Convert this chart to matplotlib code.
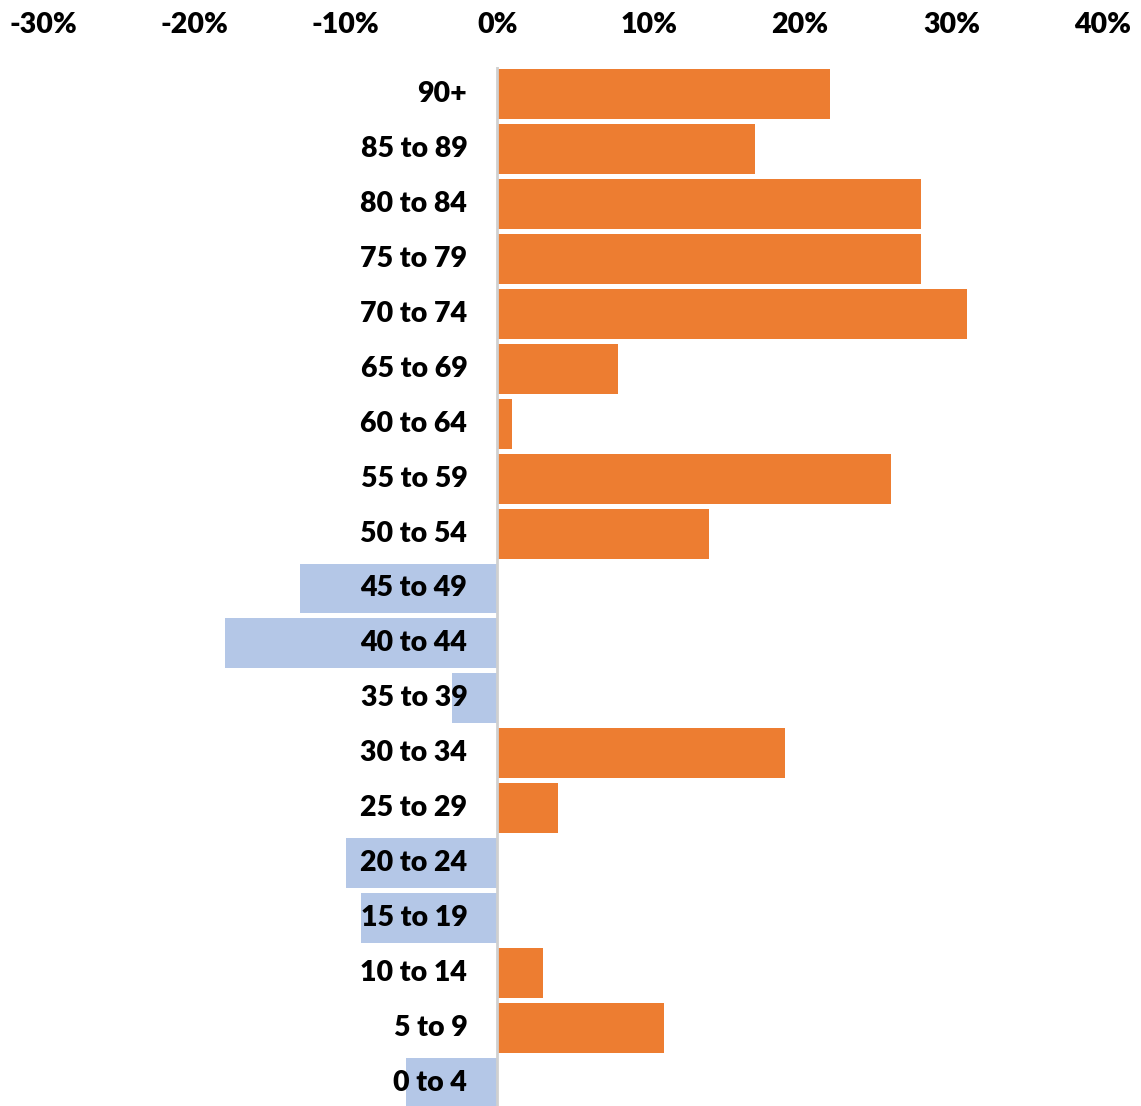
import matplotlib
matplotlib.use("Agg")
import matplotlib.pyplot as plt
import matplotlib.transforms as mtransforms

plt.rcParams['font.family'] = ['Lato', 'DejaVu Sans']

ages = ["90+", "85 to 89", "80 to 84", "75 to 79", "70 to 74", "65 to 69",
        "60 to 64", "55 to 59", "50 to 54", "45 to 49", "40 to 44", "35 to 39",
        "30 to 34", "25 to 29", "20 to 24", "15 to 19", "10 to 14", "5 to 9", "0 to 4"]
change = [22, 17, 28, 28, 31, 8, 1, 26, 14, -13, -18, -3, 19, 4, -10, -9, 3, 11, -6]
xticks = [-30, -20, -10, 0, 10, 20, 30, 40]

orange = "#ED7D31"
blue = "#B4C7E7"

W, H = 1141, 1106
fig = plt.figure(figsize=(W / 100, H / 100), dpi=100)
ax = fig.add_axes([43 / W, -4 / H, (1103 - 43) / W, (H - 67 + 4) / H])

ypos = list(range(len(ages)))
colors = [orange if v >= 0 else blue for v in change]
ax.barh(ypos, change, height=0.91, color=colors, zorder=2)
ax.axvline(0, color="#d0d0d0", lw=2, zorder=3)

ax.set_xlim(-30, 40)
ax.set_ylim(len(ages) - 0.5, -0.5)

ax.xaxis.tick_top()
ax.set_xticks(xticks)
ax.set_xticklabels([f"{t}%" for t in xticks], fontsize=20.5, fontweight="heavy")
ax.tick_params(axis="x", length=0, pad=21)
ax.set_yticks([])
for s in ax.spines.values():
    s.set_visible(False)

off = mtransforms.offset_copy(ax.transData, fig=fig, x=-30, y=0, units="dots")
for y, lab in zip(ypos, ages):
    ax.text(0, y, lab, transform=off, ha="right", va="center",
            fontsize=20.5, fontweight="heavy", zorder=5)

fig.savefig("out.png", dpi=100)
